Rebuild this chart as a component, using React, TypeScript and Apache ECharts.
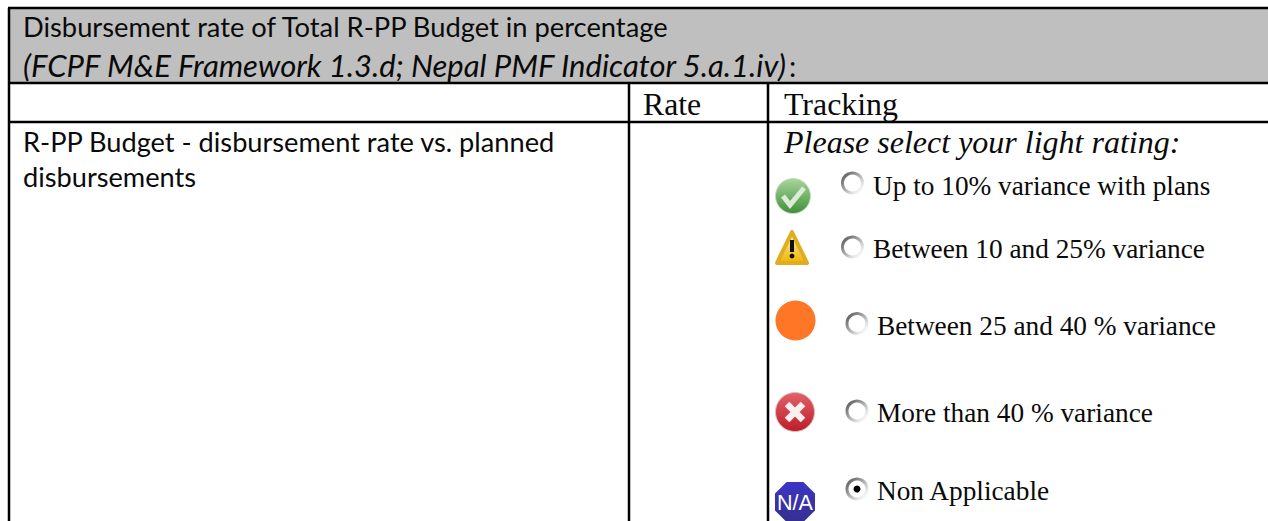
import React, { useEffect, useRef } from "react";
import * as echarts from "echarts";

const headerLines = ["Disbursement rate of Total R-PP Budget in percentage", "(FCPF M&E Framework 1.3.d; Nepal PMF Indicator 5.a.1.iv)", ":"];
const columnHeads = ["Rate", "Tracking"];
const rowLabel = ["R-PP Budget - disbursement rate vs. planned", "disbursements"];
const prompt = "Please select your light rating:";
const ratingOptions = [
  "Up to 10% variance with plans",
  "Between 10 and 25% variance",
  "Between 25 and 40 % variance",
  "More than 40 % variance",
  "Non Applicable",
];

const sans = "Lato, 'Open Sans', sans-serif";
const serif = "'Liberation Serif', serif";
const INK = "#000000";

const lin = (a: string, b: string, x = 0, y = 0, x2 = 0, y2 = 1) =>
  new echarts.graphic.LinearGradient(x, y, x2, y2, [
    { offset: 0, color: a },
    { offset: 1, color: b },
  ]);

const txt = (x: number, y: number, text: string, font: string, size: number, extra: any = {}) => ({
  type: "text",
  x,
  y,
  silent: true,
  style: { text, fontFamily: font, fontSize: size, fill: "#0a0a0a", textVerticalAlign: "middle", verticalAlign: "middle", ...extra },
});
const hline = (x1: number, x2: number, y: number, w: number) => ({
  type: "rect",
  shape: { x: x1, y: y - w / 2, width: x2 - x1, height: w },
  style: { fill: INK },
});
const vline = (x: number, y1: number, y2: number, w: number) => ({
  type: "rect",
  shape: { x: x - w / 2, y: y1, width: w, height: y2 - y1 },
  style: { fill: INK },
});

const radio = (cx: number, cy: number, on = false): any[] => [
  { type: "circle", shape: { cx, cy, r: 10 }, style: { fill: "#ffffff", lineWidth: 3, stroke: lin("#666666", "#f4f4f4", 0.1, 0.1, 0.85, 0.85) } },
  ...(on ? [{ type: "circle", shape: { cx, cy, r: 3.5 }, style: { fill: "#000000" } }] : []),
];

const octagon = (cx: number, cy: number, r: number) => {
  const k = r * 0.42;
  return [[cx - k, cy - r], [cx + k, cy - r], [cx + r, cy - k], [cx + r, cy + k], [cx + k, cy + r], [cx - k, cy + r], [cx - r, cy + k], [cx - r, cy - k]];
};

function buildGraphics(): any[] {
  const y = [186, 249, 326, 413, 491];
  const x = [873, 873, 877, 877, 877];
  return [
    { type: "rect", shape: { x: 9, y: 8, width: 1259, height: 75 }, style: { fill: "#bfbfbf" } },
    hline(8, 1268, 8, 2.5),
    hline(8, 1268, 83, 2.5),
    hline(8, 1268, 122, 2.5),
    vline(9, 8, 521, 2.5),
    vline(629, 83, 521, 2.5),
    vline(768, 83, 521, 2.5),
    txt(23, 26.5, headerLines[0], sans, 27.3),
    txt(23, 65, headerLines[1], sans, 31, { fontStyle: "italic" }),
    txt(789, 65, headerLines[2], sans, 29),
    txt(643, 104, columnHeads[0], serif, 31.7),
    txt(784, 104, columnHeads[1], serif, 31.9),
    txt(23, 141.5, rowLabel[0], sans, 27.2),
    txt(23, 176.5, rowLabel[1], sans, 27.2),
    txt(784, 142, prompt, serif, 32, { fontStyle: "italic" }),
    ...ratingOptions.map((t, i) => txt(x[i], y[i], t, serif, 27.3)),
    // green check icon
    { type: "circle", shape: { cx: 793, cy: 196, r: 17.5 }, style: { fill: lin("#a9d69c", "#3f8f37"), stroke: "#c9dcc6", lineWidth: 1 } },
    { type: "polyline", shape: { points: [[783, 196], [790, 205], [804, 188]] }, style: { stroke: "#dcebd8", lineWidth: 5, fill: "none" } },
    // warning icon
    { type: "polygon", shape: { points: [[792, 232], [807, 263], [777, 263]] }, style: { fill: lin("#fff2b0", "#eeb400"), stroke: "#e0ad20", lineWidth: 4, lineJoin: "round" } },
    { type: "rect", shape: { x: 790, y: 240, width: 4, height: 12 }, style: { fill: "#111111" } },
    { type: "circle", shape: { cx: 792, cy: 256, r: 2.4 }, style: { fill: "#111111" } },
    // orange dot
    { type: "circle", shape: { cx: 795.5, cy: 320.5, r: 20 }, style: { fill: "#ff7627" } },
    // red cross icon
    { type: "circle", shape: { cx: 795, cy: 412, r: 19.5 }, style: { fill: lin("#e2626b", "#bb1d27"), stroke: "#e6b9bc", lineWidth: 1 } },
    { type: "line", shape: { x1: 787, y1: 404, x2: 803, y2: 420 }, style: { stroke: "#fbeeee", lineWidth: 6.5 } },
    { type: "line", shape: { x1: 803, y1: 404, x2: 787, y2: 420 }, style: { stroke: "#fbeeee", lineWidth: 6.5 } },
    // N/A icon
    { type: "polygon", shape: { points: octagon(795, 502, 20) }, style: { fill: lin("#3c35c6", "#35308e") } },
    txt(795, 503, "N/A", "'Liberation Sans', sans-serif", 21.5, { fill: "#ffffff", textAlign: "center", align: "center" }),
    ...radio(852.5, 183),
    ...radio(852.5, 247),
    ...radio(857, 323.5),
    ...radio(857, 411),
    ...radio(857, 489, true),
  ];
}

export default function App() {
  const ref = useRef<HTMLDivElement>(null);
  useEffect(() => {
    const chart = echarts.init(ref.current!, undefined, { renderer: "svg" });
    chart.setOption({ animation: false, backgroundColor: "#ffffff", graphic: { elements: buildGraphics() } });
    return () => chart.dispose();
  }, []);
  return <div ref={ref} style={{ position: "fixed", left: 0, top: 0, width: 1268, height: 521 }} />;
}
